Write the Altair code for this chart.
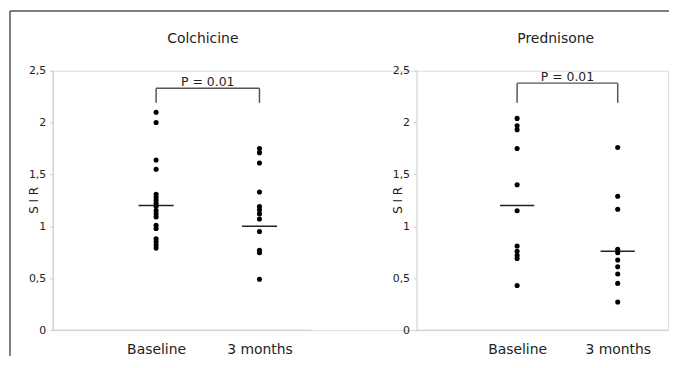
import altair as alt
import pandas as pd

# ---- data ----
panels = ["Colchicine", "Prednisone"]
groups = ["Baseline", "3 months"]

colchicine_baseline = [2.10, 2.00, 1.64, 1.55, 1.31, 1.28, 1.25, 1.22, 1.19, 1.15,
                       1.12, 1.09, 1.01, 0.98, 0.88, 0.85, 0.82, 0.79]
colchicine_3months = [1.75, 1.71, 1.61, 1.33, 1.19, 1.16, 1.12, 1.07, 0.95,
                      0.77, 0.745, 0.49]
prednisone_baseline = [2.04, 1.97, 1.93, 1.75, 1.40, 1.15, 0.81, 0.76, 0.72, 0.69, 0.43]
prednisone_3months = [1.76, 1.29, 1.165, 0.78, 0.745, 0.675, 0.61, 0.54, 0.45, 0.27]

colchicine_means = [1.20, 1.00]
prednisone_means = [1.20, 0.76]

bracket_top = [2.33, 2.38]
bracket_bottom = [2.19, 2.19]
p_labels = ["P = 0.01", "P = 0.01"]

y_ticks = [0, 0.5, 1, 1.5, 2, 2.5]
y_max = 2.5

FONT = "DejaVu Sans"
TXT = "#222222"
AXC = "#cccccc"

points = pd.DataFrame(
    [{"panel": "Colchicine", "group": "Baseline", "SIR": v} for v in colchicine_baseline]
    + [{"panel": "Colchicine", "group": "3 months", "SIR": v} for v in colchicine_3months]
    + [{"panel": "Prednisone", "group": "Baseline", "SIR": v} for v in prednisone_baseline]
    + [{"panel": "Prednisone", "group": "3 months", "SIR": v} for v in prednisone_3months]
)
means = pd.DataFrame(
    [{"panel": "Colchicine", "group": g, "mean": m} for g, m in zip(groups, colchicine_means)]
    + [{"panel": "Prednisone", "group": g, "mean": m} for g, m in zip(groups, prednisone_means)]
)
brackets = pd.DataFrame(
    [{"panel": p, "group": g, "top": t, "bottom": b, "label": lab}
     for p, t, b, lab in zip(panels, bracket_top, bracket_bottom, p_labels)
     for g in groups]
)
axis_lines = pd.DataFrame({"panel": panels, "zero": [0, 0]})

# each panel gets its own stretch of a piecewise x scale (panel offset 10)
XPOS = ("indexof(['Baseline', '3 months'], datum.group) + 1"
        " + (datum.panel == 'Prednisone' ? 10 : 0)")
PSTART = "datum.panel == 'Prednisone' ? 10 : 0"

xscale = alt.Scale(domain=[0, 2.5, 10, 12.5], range=[0, 260, 366, 619])
yscale = alt.Scale(domain=[0, y_max])

XAXIS = alt.Axis(values=[1, 2, 11, 12], title=None, grid=False, ticks=False,
                 tickSize=0, domain=False,
                 labelExpr="(datum.value % 10) == 1 ? 'Baseline' : '3 months'",
                 labelFontSize=14, labelPadding=13, labelColor=TXT, labelFont=FONT)


def yaxis(offset):
    return alt.Axis(values=y_ticks, title="S I R", grid=False, format="~g",
                    labelExpr="replace(datum.label, '.', ',')", orient="left",
                    offset=offset, domainColor=AXC, tickColor=AXC, tickSize=3,
                    labelFontSize=11, labelPadding=4, labelColor=TXT,
                    labelFont=FONT, titleFont=FONT, titleFontSize=12,
                    titleFontWeight="normal", titleColor=TXT,
                    titleX=-19, titleY=130, titleBaseline="middle",
                    titleAlign="center", titleAngle=270)


def X(field):
    return alt.X(field, scale=xscale, axis=XAXIS)


def Y(field, axis=None):
    return alt.Y(field, scale=yscale, axis=axis)


pts_base = alt.Chart(points).transform_calculate(xpos=XPOS).mark_circle(
    color="black", opacity=1, size=26
)
pts_left = pts_base.transform_filter(alt.datum.panel == "Colchicine").encode(
    x=X("xpos:Q"), y=Y("SIR:Q", yaxis(0))
)
pts_right = pts_base.transform_filter(alt.datum.panel == "Prednisone").encode(
    x=X("xpos:Q"), y=Y("SIR:Q", yaxis(-366))
)

mean_rules = alt.Chart(means).transform_calculate(xpos=XPOS).transform_calculate(
    x1="datum.xpos - 0.17", x2="datum.xpos + 0.17"
).mark_rule(color=TXT, strokeWidth=1.5).encode(
    x=X("x1:Q"), x2="x2:Q", y=Y("mean:Q")
)

br = alt.Chart(brackets).transform_calculate(xpos=XPOS)
br_vert = br.mark_rule(color="#555555", strokeWidth=1.5).encode(
    x=X("xpos:Q"), y=Y("bottom:Q"), y2="top:Q"
)
br_horiz = br.mark_rule(color="#555555", strokeWidth=1.5).encode(
    x=X("min(xpos):Q"), x2="max(xpos)", y=Y("max(top):Q"), detail="panel:N"
)
br_text = br.mark_text(
    font=FONT, fontSize=12.5, color=TXT, baseline="alphabetic", dy=-2
).encode(
    x=X("mean(xpos):Q"), y=Y("max(top):Q"), text="label:N", detail="panel:N"
)

x_lines = alt.Chart(axis_lines).transform_calculate(
    start=PSTART
).transform_calculate(end="datum.start + 2.5").mark_rule(
    color=AXC, strokeWidth=1
).encode(x=X("start:Q"), x2="end:Q", y=Y("zero:Q"))

titles = alt.Chart(pd.DataFrame({"t": panels, "px": [151, 506]})).mark_text(
    font=FONT, fontSize=14, color=TXT, baseline="middle"
).encode(x=alt.X("px:Q", scale=None), y=alt.value(-32), text="t:N")

frame_v = alt.Chart(pd.DataFrame({"a": [0]})).mark_rule(
    color="#555555", strokeWidth=1.5
).encode(x=alt.value(-43), y=alt.value(-60), y2=alt.value(400))
frame_h = alt.Chart(pd.DataFrame({"a": [0]})).mark_rule(
    color="#555555", strokeWidth=1.5
).encode(x=alt.value(-43), x2=alt.value(700), y=alt.value(-60))

chart = alt.layer(
    frame_v, frame_h, x_lines, mean_rules, br_vert, br_horiz, br_text,
    pts_left, pts_right, titles
).resolve_axis(y="independent").properties(
    width=619, height=261,
    autosize=alt.AutoSizeParams(type="none"),
    padding={"left": 45, "top": 62, "right": 1, "bottom": 25}
).configure_view(stroke=None).configure(background="white")

chart.save("out.html", embed_options={"renderer": "svg", "actions": False})
